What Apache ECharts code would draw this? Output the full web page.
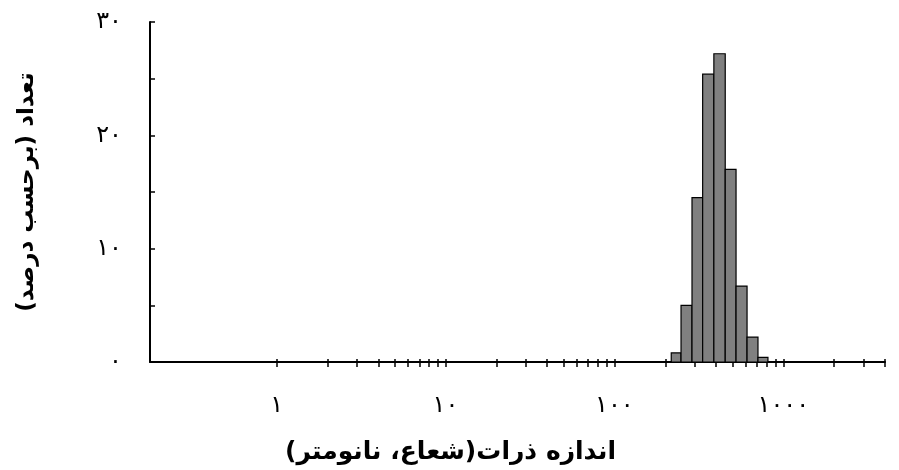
<!DOCTYPE html>
<html>
<head>
<meta charset="utf-8">
<script src="https://cdn.jsdelivr.net/npm/echarts@6/dist/echarts.min.js"></script>
<style>
html,body{margin:0;padding:0;background:#fff;}
#c{width:899px;height:470px;}
</style>
</head>
<body>
<div id="c"></div>
<script>
// Bin edges (nm, log scale) and percentages
const binLow  = [217, 248, 288, 333, 388, 453, 525, 610, 708];
const binHigh = [248, 288, 333, 388, 453, 525, 610, 708, 811];
const percent = [0.8, 5.0, 14.5, 25.4, 27.2, 17.0, 6.7, 2.2, 0.4];

const xLabelValues = [1, 10, 100, 1000];
const xTickValues = [1,2,3,4,5,6,7,8,9,10,20,30,40,50,60,70,80,90,100,200,300,400,500,600,700,800,900,1000,2000,3000,4000];
const yLabelValues = [0, 10, 20, 30];
const xMin = 0.178, xMax = 4000;
const yMin = 0, yMax = 30, yInterval = 5;

const xTitle = 'اندازه ذرات(شعاع، نانومتر)';
const yTitle = 'تعداد (برحسب درصد)';

const faDigits = '۰۱۲۳۴۵۶۷۸۹';
function toFa(v){ return String(Math.round(v)).replace(/\d/g, d => faDigits[+d]); }

const data = binLow.map((lo, i) => [lo, binHigh[i], percent[i]]);
const font = '"DejaVu Sans", sans-serif';

const chart = echarts.init(document.getElementById('c'), null, {renderer:'canvas'});
chart.setOption({
  animation: false,
  backgroundColor: '#fff',
  grid: {left: 150, right: 14, top: 22, bottom: 108, containLabel: false},
  xAxis: [{
    type: 'log', logBase: 10, min: xMin, max: xMax, position: 'bottom',
    name: xTitle, nameLocation: 'middle', nameGap: 78,
    nameTextStyle: {fontFamily: font, fontWeight: 'bold', fontSize: 25, color: '#000', padding: [0, 134, 0, 0]},
    axisLine: {show: true, lineStyle: {color: '#000', width: 2}},
    axisTick: {show: true, inside: false, length: 5, lineStyle: {color: '#000', width: 1.5}, customValues: xTickValues},
    axisLabel: {show: true, margin: 32, fontFamily: font, fontSize: 24, color: '#000', customValues: xLabelValues, formatter: v => toFa(v)},
    splitLine: {show: false}, minorTick: {show: false}
  }, {
    type: 'log', logBase: 10, min: xMin, max: xMax, position: 'bottom', offset: 0,
    axisLine: {show: false},
    axisTick: {show: true, inside: true, length: 3, lineStyle: {color: '#000', width: 1.5}, customValues: xTickValues},
    axisLabel: {show: false},
    splitLine: {show: false}
  }],
  yAxis: {
    type: 'value', min: yMin, max: yMax, interval: yInterval,
    name: yTitle, nameLocation: 'middle', nameGap: 111, nameRotate: 90,
    nameTextStyle: {fontFamily: font, fontWeight: 'bold', fontSize: 23, color: '#000'},
    axisLine: {show: true, lineStyle: {color: '#000', width: 2}},
    axisTick: {show: true, inside: true, length: 5, lineStyle: {color: '#000', width: 1.5}},
    axisLabel: {show: true, margin: 28, fontFamily: font, fontSize: 24, color: '#000', customValues: yLabelValues, formatter: v => toFa(v)},
    splitLine: {show: false}
  },
  series: [{
    type: 'custom',
    xAxisIndex: 0,
    encode: {x: [0, 1], y: 2},
    data: data,
    renderItem: function(params, api){
      const p0 = api.coord([api.value(0), 0]);
      const p1 = api.coord([api.value(1), api.value(2)]);
      return {
        type: 'rect',
        shape: {x: p0[0], y: p1[1], width: p1[0] - p0[0], height: p0[1] - p1[1]},
        style: {fill: '#808080', stroke: '#000', lineWidth: 1.2}
      };
    }
  }]
});
</script>
</body>
</html>
